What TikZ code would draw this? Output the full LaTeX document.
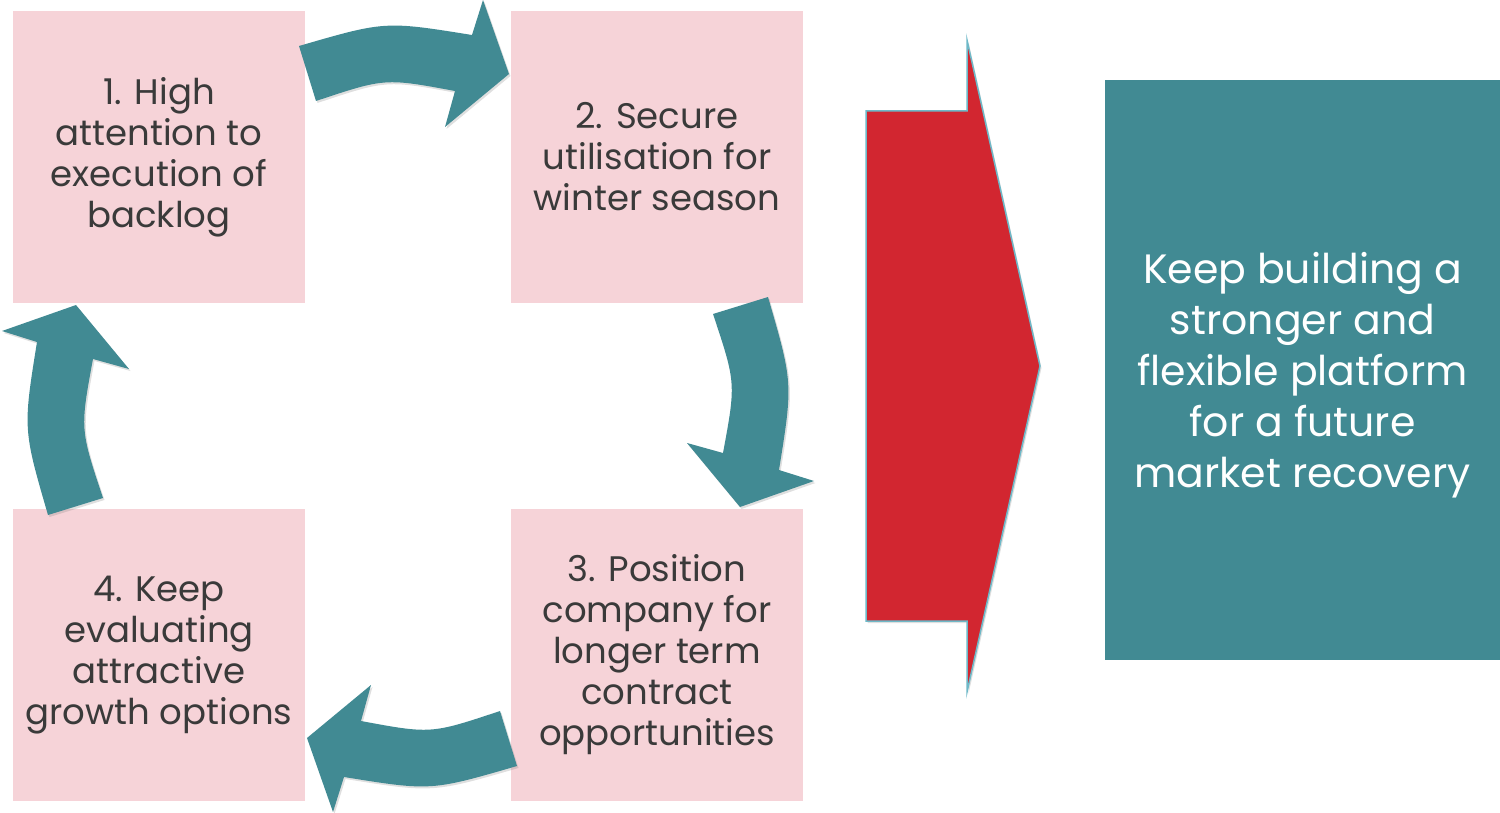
\documentclass[tikz,border=0pt]{standalone}
\usepackage{fontspec}
\setmainfont{Poppins}
\usepackage{xcolor}
\definecolor{blush}{RGB}{246,211,216}
\definecolor{petrol}{RGB}{65,138,147}
\definecolor{signal}{RGB}{210,38,48}
\definecolor{rim}{RGB}{110,185,200}
\definecolor{ink}{RGB}{58,58,58}
\usetikzlibrary{shadows}
\usetikzlibrary{positioning}

\begin{document}
\begin{tikzpicture}[x=1pt,y=-1pt]
\tikzset{
  phase/.style={fill=blush, text=ink, minimum width=292pt, minimum height=292pt, inner sep=0pt, align=center, font=\fontsize{35.5}{41}\selectfont},
  turn/.style={fill=petrol, drop shadow={opacity=0.25, shadow xshift=1.5pt, shadow yshift=-2pt}},
}
\useasboundingbox (0,0) rectangle (1500,813);

% the four steps
  \node[phase] (box1) at (159,157) {1. High\\attention to\\execution of\\backlog};
  \node[phase] (box2) at (657,157) {2. Secure\\utilisation for\\winter season};
  \node[phase] (box3) at (657,655) {3. Position\\company for\\longer term\\contract\\opportunities};
  \node[phase] (box4) at (159,655) {4. Keep\\evaluating\\attractive\\growth options};

% curved arrows, one shape turned round the middle
  \foreach \a in {0,-90,180,90}
    \fill[turn, rotate around={\a:(408,406)}] (299,46) .. controls (385,21) .. (472,35) -- (483,0) -- (509,74) -- (445,127) -- (455,91) .. controls (385,78) .. (316,101) -- cycle;

% big arrow
  \filldraw[fill=signal, draw=rim, line width=1.5pt, drop shadow={opacity=0.25, shadow xshift=1.5pt, shadow yshift=-2pt}] (866,111) -- (967,111) -- (967,40) -- (1040,366) -- (967,692) -- (967,621) -- (866,621) -- cycle;

% result
  \node[fill=petrol, minimum width=395pt, minimum height=580pt, inner sep=0pt] (goal) at (1302.5,370) {};
  \node[text=white, align=center, font=\fontsize{41}{51}\selectfont] (goaltext) at (1302.5,375) {Keep building a\\stronger and\\flexible platform\\for a future\\market recovery};

\end{tikzpicture}
\end{document}
